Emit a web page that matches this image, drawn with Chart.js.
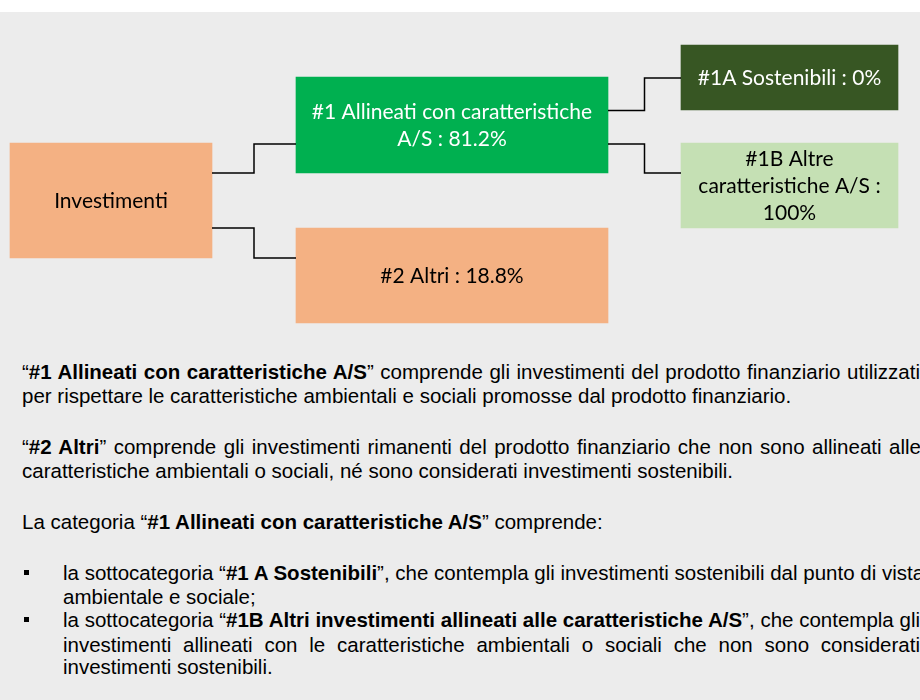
<!DOCTYPE html>
<html lang="it">
<head>
<meta charset="utf-8">
<title>Allocazione degli attivi</title>
<script src="https://cdn.jsdelivr.net/npm/chart.js@4.4.1/dist/chart.umd.min.js"></script>
<style>
  html, body { margin: 0; padding: 0; background: #fff; }
  #page { position: relative; width: 920px; height: 700px; overflow: hidden; }
  #bg { position: absolute; left: 0; top: 12px; width: 920px; height: 688px; background: #ececec; }
  #diagram { position: absolute; left: 0; top: 0; }
  .ln {
    position: absolute; white-space: nowrap;
    font-family: "Liberation Sans", Arial, sans-serif; font-size: 20.5px; line-height: 24px; color: #000;
  }
  .ln b { font-weight: bold; }
  .just { text-align: justify; text-align-last: justify; }
  .bullet { position: absolute; width: 5px; height: 5px; background: #000; }
</style>
</head>
<body>
<div id="page">
  <div id="bg"></div>
  <canvas id="diagram" width="920" height="340"></canvas>

  <div class="ln just" style="left:22px; top:360px; width:898px;">“<b>#1 Allineati con caratteristiche A/S</b>” comprende gli investimenti del prodotto finanziario utilizzati</div>
  <div class="ln" style="left:22px; top:384px;">per rispettare le caratteristiche ambientali e sociali promosse dal prodotto finanziario.</div>

  <div class="ln just" style="left:22px; top:435px; width:899px;">“<b>#2 Altri</b>” comprende gli investimenti rimanenti del prodotto finanziario che non sono allineati alle</div>
  <div class="ln" style="left:22px; top:459px;">caratteristiche ambientali o sociali, né sono considerati investimenti sostenibili.</div>

  <div class="ln" style="left:22px; top:510px;">La categoria “<b>#1 Allineati con caratteristiche A/S</b>” comprende:</div>

  <div class="bullet" style="left:24px; top:570px;"></div>
  <div class="ln just" style="left:63px; top:561px; width:858px;">la sottocategoria “<b>#1 A Sostenibili</b>”, che contempla gli investimenti sostenibili dal punto di vista</div>
  <div class="ln" style="left:63px; top:585px;">ambientale e sociale;</div>
  <div class="bullet" style="left:24px; top:617px;"></div>
  <div class="ln just" style="left:63px; top:608px; width:857px;">la sottocategoria “<b>#1B Altri investimenti allineati alle caratteristiche A/S</b>”, che contempla gli</div>
  <div class="ln just" style="left:63px; top:633px; width:857px;">investimenti allineati con le caratteristiche ambientali o sociali che non sono considerati</div>
  <div class="ln" style="left:63px; top:655px;">investimenti sostenibili.</div>
</div>

<script>
// --------------------
// Data
// --------------------
const nodeNames = [
  'Investimenti',
  '#1 Allineati con caratteristiche A/S',
  '#2 Altri',
  '#1A Sostenibili',
  '#1B Altre caratteristiche A/S'
];
const nodeShares = [null, 81.2, 18.8, 0, 100];
const links = [[0, 1], [0, 2], [1, 3], [1, 4]];

// --------------------
// Layout (pixels on the chart's own scales)
// --------------------
const boxes = [
  { x0: 10,  x1: 212, y0: 143, y1: 258, fill: '#f4b183', text: '#000000' },
  { x0: 296, x1: 608, y0: 77,  y1: 173, fill: '#00b050', text: '#ffffff' },
  { x0: 296, x1: 608, y0: 228, y1: 323, fill: '#f4b183', text: '#000000' },
  { x0: 681, x1: 898, y0: 45,  y1: 110, fill: '#375623', text: '#ffffff' },
  { x0: 681, x1: 898, y0: 143, y1: 228, fill: '#c5e0b4', text: '#000000' }
];
// y where each connector leaves the parent and enters the child
const linkAnchors = [[173, 144], [228, 258], [110.5, 78], [144, 173]];

const BOX_FONT = '21px Lato';
const LINE_GAP = 27;

function nodeLabel(i) {
  return nodeShares[i] === null ? nodeNames[i] : `${nodeNames[i]} : ${nodeShares[i]}%`;
}

function wrapText(ctx, text, maxWidth) {
  const words = text.split(' ');
  const lines = [];
  let cur = '';
  words.forEach(w => {
    const test = cur ? cur + ' ' + w : w;
    if (cur && ctx.measureText(test).width > maxWidth) {
      lines.push(cur);
      cur = w;
    } else {
      cur = test;
    }
  });
  if (cur) lines.push(cur);
  return lines;
}

// --------------------
// Datasets
// --------------------
const boxDatasets = nodeNames.map((name, i) => {
  const b = boxes[i];
  return {
    type: 'bar',
    label: name,
    data: [{ x: (b.x0 + b.x1) / 2, y: [b.y0, b.y1] }],
    backgroundColor: b.fill,
    borderWidth: 0,
    barThickness: b.x1 - b.x0,
    order: 2
  };
});

const linkDatasets = links.map(([from, to], k) => ({
  type: 'line',
  label: `${nodeNames[from]} → ${nodeNames[to]}`,
  data: [
    { x: boxes[from].x1, y: linkAnchors[k][0] },
    { x: boxes[to].x0, y: linkAnchors[k][1] }
  ],
  stepped: 'middle',
  borderColor: '#000000',
  borderWidth: 1.5,
  pointRadius: 0,
  fill: false,
  order: 1
}));

// --------------------
// Box labels plugin
// --------------------
const boxLabels = {
  id: 'boxLabels',
  afterDatasetsDraw(chart) {
    const ctx = chart.ctx;
    ctx.save();
    ctx.font = BOX_FONT;
    ctx.textAlign = 'center';
    ctx.textBaseline = 'middle';
    nodeNames.forEach((name, i) => {
      const bar = chart.getDatasetMeta(i).data[0];
      const { x, y, base, width } = bar.getProps(['x', 'y', 'base', 'width'], true);
      const lines = wrapText(ctx, nodeLabel(i), width - 20);
      const cy = (y + base) / 2 + 1;
      ctx.fillStyle = boxes[i].text;
      lines.forEach((ln, k) => {
        ctx.fillText(ln, x, cy + (k - (lines.length - 1) / 2) * LINE_GAP);
      });
    });
    ctx.restore();
  }
};

// --------------------
// Chart
// --------------------
new Chart(document.getElementById('diagram'), {
  type: 'bar',
  data: { datasets: [...boxDatasets, ...linkDatasets] },
  options: {
    responsive: false,
    devicePixelRatio: 1,
    animation: false,
    events: [],
    layout: { padding: 0 },
    plugins: {
      legend: { display: false },
      tooltip: { enabled: false }
    },
    scales: {
      x: { type: 'linear', min: 0, max: 920, display: false, offset: false, stacked: true },
      y: { type: 'linear', min: 0, max: 340, reverse: true, display: false }
    }
  },
  plugins: [boxLabels]
});
</script>
</body>
</html>
